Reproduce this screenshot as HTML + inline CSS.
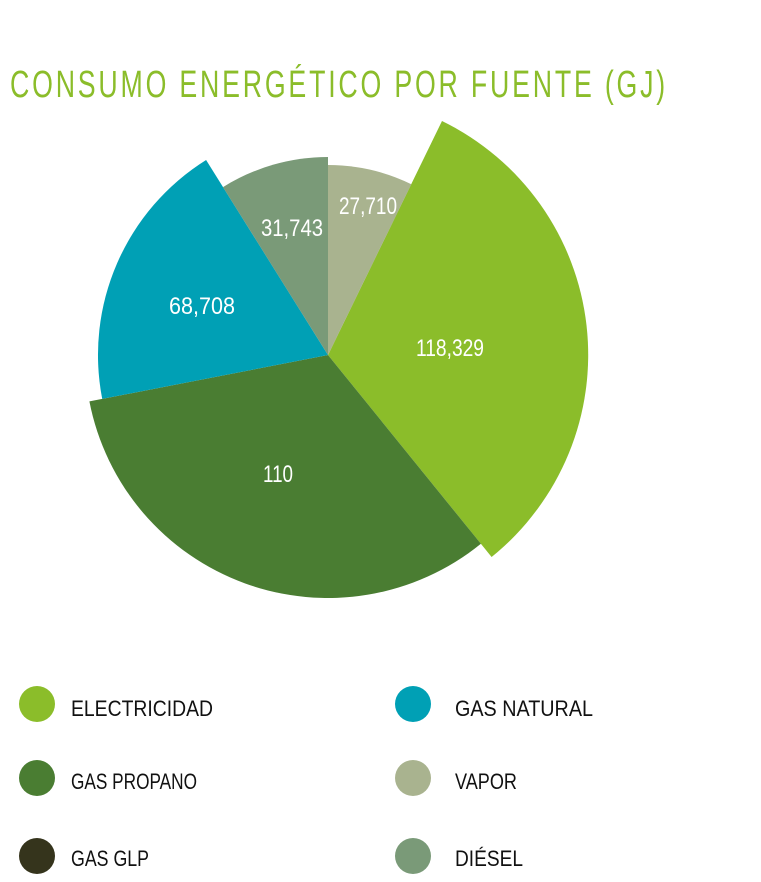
<!DOCTYPE html>
<html><head><meta charset="utf-8"><style>
html,body{margin:0;padding:0;background:#fff;}
body{width:761px;height:877px;overflow:hidden;}
svg text{font-family:"Liberation Sans Narrow","Liberation Sans",sans-serif;}
</style></head><body>
<svg width="761" height="877" viewBox="0 0 761 877" xmlns="http://www.w3.org/2000/svg">
<text x="10" y="97" font-size="38" fill="#8bbd2a" letter-spacing="4" textLength="658" lengthAdjust="spacingAndGlyphs" font-weight="normal">CONSUMO ENERGÉTICO POR FUENTE (GJ)</text>
<g>
<path d="M328 355 L442 121 A260 260 0 0 1 491.6 557 Z" fill="#8bbd2a"/>
<path d="M328 355 L480.9 543.8 A243 243 0 0 1 89.4 401.4 Z" fill="#4a7d32"/>
<path d="M328 355 L102.2 398.9 A230 230 0 0 1 206.1 160 Z" fill="#00a0b5"/>
<path d="M328 355 L223 187.1 A198 198 0 0 1 328 157 Z" fill="#7a9a78"/>
<path d="M328 355 L328 165 A190 190 0 0 1 411.3 184.2 Z" fill="#a9b38f"/>
</g>
<g fill="#fff" font-size="24" text-anchor="middle">
<text x="368" y="214" textLength="58" lengthAdjust="spacingAndGlyphs">27,710</text>
<text x="292" y="236" textLength="62" lengthAdjust="spacingAndGlyphs">31,743</text>
<text x="202" y="314" textLength="66" lengthAdjust="spacingAndGlyphs">68,708</text>
<text x="450" y="356" textLength="68" lengthAdjust="spacingAndGlyphs">118,329</text>
<text x="278" y="482" textLength="30" lengthAdjust="spacingAndGlyphs">110</text>
</g>
<circle cx="37" cy="704" r="18" fill="#8bbd2a"/>
<circle cx="37" cy="778" r="18" fill="#4a7d32"/>
<circle cx="37" cy="856" r="18" fill="#35341c"/>
<circle cx="413" cy="704" r="18" fill="#00a0b5"/>
<circle cx="413" cy="778" r="18" fill="#a9b38f"/>
<circle cx="413" cy="856" r="18" fill="#7a9a78"/>
<g fill="#111" font-size="22">
<text x="71" y="716" textLength="142" lengthAdjust="spacingAndGlyphs">ELECTRICIDAD</text>
<text x="71" y="789" textLength="126" lengthAdjust="spacingAndGlyphs">GAS PROPANO</text>
<text x="71" y="866" textLength="78" lengthAdjust="spacingAndGlyphs">GAS GLP</text>
<text x="455" y="716" textLength="138" lengthAdjust="spacingAndGlyphs">GAS NATURAL</text>
<text x="455" y="789" textLength="62" lengthAdjust="spacingAndGlyphs">VAPOR</text>
<text x="455" y="866" textLength="68" lengthAdjust="spacingAndGlyphs">DIÉSEL</text>
</g>
</svg>
</body></html>
